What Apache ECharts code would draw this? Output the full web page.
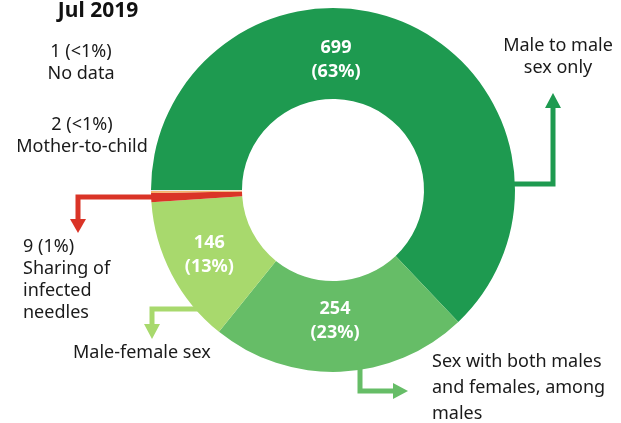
<!DOCTYPE html>
<html>
<head>
<meta charset="utf-8">
<script src="https://cdn.jsdelivr.net/npm/echarts@6/dist/echarts.min.js"></script>
<style>
  html, body { margin: 0; padding: 0; background: #fff; }
  #chart { width: 621px; height: 423px; }
</style>
</head>
<body>
<div id="chart"></div>
<script>
// data
var categories = ["Male to male sex only", "Sex with both males and females, among males", "Male-female sex", "Sharing of infected needles", "Mother-to-child", "No data"];
var counts = [699, 254, 146, 9, 2, 1];
var shares = ["63%", "23%", "13%", "1%", "<1%", "<1%"];
var period = "Jul 2019";

// how the names wrap in the annotations
var nameLines = [
  ["Male to male", "sex only"],
  ["Sex with both males", "and females, among", "males"],
  ["Male-female sex"],
  ["Sharing of", "infected", "needles"],
  ["Mother-to-child"],
  ["No data"]
];

var sliceColors = ["#1e9a50", "#66bd67", "#a8d96d", "#da3427", "#f6b36b", "#e8e8e8"];
var font = '"Noto Sans", sans-serif';

var chart = echarts.init(document.getElementById("chart"));

var pieData = counts.map(function (v, i) {
  return {
    value: v,
    name: categories[i],
    itemStyle: { color: sliceColors[i] },
    label: { show: i < 3 }
  };
});

// leader arrows
function arrow(points, head, color) {
  return [
    { type: "polyline", shape: { points: points }, style: { stroke: color, lineWidth: 5, fill: null }, z: 10 },
    { type: "polygon", shape: { points: head }, style: { fill: color }, z: 10 }
  ];
}

function txt(lines, x, y, align, lh) {
  return {
    type: "text",
    style: {
      text: lines.join("\n"),
      x: x, y: y,
      align: align,
      verticalAlign: "top",
      lineHeight: lh,
      font: "18px " + font,
      fill: "#1a1a1a"
    }
  };
}

var graphics = []
  .concat(arrow([[512, 184], [553, 184], [553, 106]], [[545, 108], [561, 108], [553, 93]], sliceColors[0]))
  .concat(arrow([[360, 362], [360, 391], [395, 391]], [[393, 383], [393, 399], [408, 391]], sliceColors[1]))
  .concat(arrow([[198, 309], [152, 309], [152, 326]], [[144, 324], [160, 324], [152, 339]], sliceColors[2]))
  .concat(arrow([[153, 197], [78, 197], [78, 221]], [[70, 219], [86, 219], [78, 233]], sliceColors[3]))
  .concat([
    {
      type: "text",
      style: { text: period, x: 98, y: 11, align: "center", verticalAlign: "middle", font: "bold 21px " + font, fill: "#111" }
    },
    txt(nameLines[0], 558, 35, "center", 22),
    txt(nameLines[1], 432, 349, "left", 26),
    txt(nameLines[2], 73, 342, "left", 22),
    txt([counts[3] + " (" + shares[3] + ")"].concat(nameLines[3]), 23, 236, "left", 22),
    txt([counts[4] + " (" + shares[4] + ")"].concat(nameLines[4]), 82, 114, "center", 22),
    txt([counts[5] + " (" + shares[5] + ")"].concat(nameLines[5]), 81, 41, "center", 22)
  ]);

var option = {
  animation: false,
  tooltip: { show: false },
  graphic: graphics,
  series: [
    {
      type: "pie",
      center: [333, 190],
      radius: [91, 182],
      startAngle: 180,
      clockwise: true,
      avoidLabelOverlap: false,
      emphasis: { disabled: true },
      itemStyle: { borderWidth: 0 },
      label: {
        position: "inside",
        color: "#fff",
        fontFamily: font,
        fontSize: 18,
        fontWeight: "bold",
        lineHeight: 24,
        formatter: function (p) {
          return p.value + "\n(" + shares[p.dataIndex] + ")";
        }
      },
      labelLine: { show: false },
      labelLayout: function (p) {
        // nudge the two big labels to where the original puts them
        if (p.dataIndex === 0) return { x: 336, y: 60 };
        if (p.dataIndex === 1) return { x: 335, y: 321 };
        return {};
      },
      data: pieData
    }
  ]
};

chart.setOption(option);
</script>
</body>
</html>
